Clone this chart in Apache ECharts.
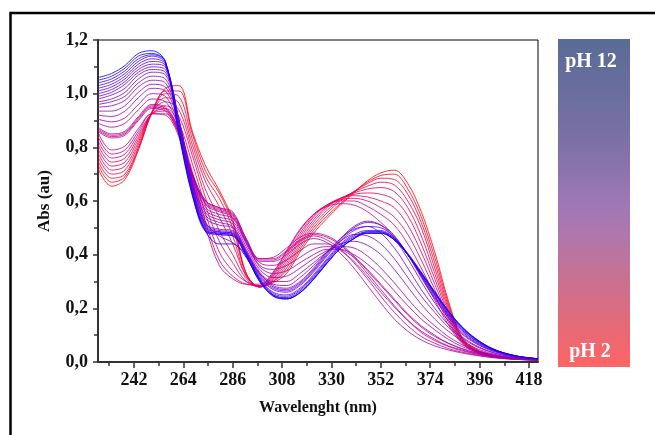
<!DOCTYPE html>
<html>
<head>
<meta charset="utf-8">
<script src="https://cdn.jsdelivr.net/npm/echarts@6/dist/echarts.min.js"></script>
<style>
  html, body { margin: 0; padding: 0; background: #fff; }
  #chart { width: 655px; height: 435px; }
</style>
</head>
<body>
<div id="chart"></div>
<script>
// wavelength grid (nm) the spectra were read at
const wavelengths = [226, 232, 238, 244, 250, 256, 262, 268, 274, 280, 286, 292, 298, 304, 310, 316, 322, 328, 334, 340, 346, 352, 358, 364, 370, 376, 382, 388, 394, 402, 412, 422];
const xLabelTicks = [242, 264, 286, 308, 330, 352, 374, 396, 418];
const xMinorTicks = [231, 253, 275, 297, 319, 341, 363, 385, 407];
const phLabels = ['pH 12', 'pH 2'];

// absorbance, from pH 2 (red) to pH 12 (blue)
const s00 = [0.72,0.655,0.68,0.79,0.93, 1.02,1.03,0.86,0.73,0.64, 0.53,0.33,0.28,0.295,0.33, 0.41,0.48,0.535,0.585,0.63, 0.675,0.705,0.715,0.665,0.56, 0.41,0.23,0.095,0.05,0.027, 0.015,0.01];
const s01 = [0.735,0.67,0.69,0.795,0.93, 1.01,1.01,0.85,0.71,0.63, 0.52,0.33,0.28,0.30,0.34, 0.42,0.49,0.545,0.59,0.635, 0.67,0.695,0.70,0.645,0.54, 0.39,0.22,0.09,0.048,0.026, 0.014,0.01];
const s02 = [0.75,0.685,0.70,0.80,0.93, 1.00,0.99,0.83,0.69,0.61, 0.50,0.33,0.28,0.30,0.35, 0.43,0.50,0.555,0.60,0.635, 0.665,0.685,0.68,0.625,0.52, 0.37,0.21,0.09,0.046,0.025, 0.014,0.01];
const s03 = [0.765,0.70,0.715,0.81,0.93, 0.985,0.965,0.81,0.67,0.58, 0.47,0.32,0.28,0.305,0.36, 0.44,0.51,0.565,0.605,0.635, 0.655,0.67,0.66,0.60,0.50, 0.35,0.20,0.085,0.045,0.024, 0.013,0.01];
const s04 = [0.78,0.715,0.73,0.82,0.93, 0.97,0.94,0.79,0.64,0.54, 0.44,0.32,0.28,0.31,0.37, 0.45,0.52,0.575,0.61,0.63, 0.645,0.65,0.635,0.575,0.47, 0.33,0.19,0.085,0.044,0.024, 0.013,0.01];
const s05 = [0.795,0.73,0.745,0.83,0.925, 0.955,0.915,0.77,0.61,0.49, 0.40,0.31,0.28,0.315,0.38, 0.46,0.53,0.58,0.61,0.625, 0.63,0.625,0.605,0.545,0.44, 0.31,0.18,0.08,0.043,0.023, 0.012,0.008];
const s06 = [0.81,0.745,0.76,0.84,0.925, 0.945,0.89,0.74,0.58,0.45, 0.37,0.30,0.28,0.32,0.39, 0.47,0.54,0.585,0.61,0.62, 0.615,0.60,0.575,0.51,0.41, 0.29,0.17,0.08,0.042,0.022, 0.012,0.008];
const s07 = [0.825,0.76,0.775,0.85,0.925, 0.935,0.87,0.71,0.55,0.41, 0.34,0.30,0.285,0.325,0.40, 0.48,0.545,0.585,0.605,0.61, 0.60,0.575,0.54,0.475,0.38, 0.27,0.16,0.075,0.04,0.021, 0.011,0.008];
const s08 = [0.84,0.775,0.79,0.86,0.925, 0.925,0.85,0.69,0.52,0.38, 0.32,0.29,0.285,0.33,0.41, 0.49,0.55,0.585,0.60,0.60, 0.58,0.55,0.51,0.44,0.35, 0.25,0.15,0.075,0.04,0.02, 0.011,0.008];
const s09 = [0.855,0.79,0.805,0.87,0.925, 0.92,0.84,0.67,0.50,0.36, 0.31,0.29,0.29,0.335,0.415, 0.495,0.55,0.58,0.59,0.585, 0.56,0.52,0.47,0.40,0.32, 0.23,0.14,0.07,0.038,0.02, 0.011,0.008];
const s10 = [0.86,0.835,0.845,0.90,0.945, 0.935,0.85,0.70,0.60,0.575, 0.56,0.46,0.385,0.39,0.425, 0.465,0.48,0.47,0.44,0.395, 0.34,0.285,0.23,0.175,0.13, 0.095,0.07,0.05,0.035,0.022, 0.012,0.008];
const s11 = [0.865,0.84,0.85,0.905,0.95, 0.94,0.855,0.70,0.60,0.575, 0.555,0.46,0.385,0.385,0.415, 0.455,0.475,0.465,0.435,0.39, 0.33,0.27,0.21,0.155,0.11, 0.08,0.058,0.042,0.03,0.018, 0.01,0.007];
const s12 = [0.87,0.845,0.855,0.91,0.955, 0.945,0.86,0.70,0.595,0.57, 0.55,0.455,0.38,0.38,0.41, 0.45,0.47,0.455,0.42,0.37, 0.31,0.245,0.185,0.135,0.095, 0.07,0.05,0.037,0.027,0.017, 0.01,0.007];
const s13 = [0.875,0.85,0.86,0.915,0.96, 0.95,0.865,0.70,0.59,0.565, 0.545,0.45,0.375,0.375,0.40, 0.44,0.46,0.445,0.405,0.35, 0.285,0.22,0.16,0.115,0.082, 0.06,0.045,0.034,0.025,0.016, 0.01,0.007];
const s14 = [0.89,0.875,0.89,0.94,0.98, 0.97,0.875,0.70,0.585,0.56, 0.54,0.45,0.37,0.36,0.38, 0.415,0.44,0.44,0.415,0.375, 0.32,0.26,0.205,0.155,0.115, 0.085,0.06,0.045,0.032,0.02, 0.011,0.007];
const s15 = [0.905,0.895,0.91,0.96,1.00, 0.99,0.88,0.695,0.575,0.55, 0.535,0.445,0.36,0.345,0.36, 0.39,0.42,0.43,0.42,0.39, 0.345,0.29,0.235,0.18,0.135, 0.10,0.07,0.05,0.035,0.021, 0.012,0.008];
const s16 = [0.92,0.915,0.935,0.985,1.02, 1.01,0.89,0.69,0.565,0.54, 0.525,0.44,0.355,0.33,0.34, 0.37,0.40,0.42,0.42,0.40, 0.365,0.32,0.265,0.21,0.16, 0.12,0.085,0.058,0.04,0.024, 0.013,0.008];
const s17 = [0.935,0.935,0.955,1.005,1.035, 1.025,0.895,0.68,0.555,0.53, 0.515,0.43,0.345,0.315,0.32, 0.35,0.385,0.415,0.43,0.425, 0.395,0.35,0.295,0.235,0.18, 0.135,0.095,0.065,0.044,0.026, 0.014,0.008];
const s18 = [0.95,0.955,0.975,1.025,1.05, 1.04,0.90,0.675,0.545,0.52, 0.505,0.42,0.335,0.30,0.30, 0.33,0.37,0.41,0.44,0.45, 0.435,0.40,0.345,0.28,0.215, 0.16,0.115,0.08,0.053,0.03, 0.015,0.009];
const s19 = [0.96,0.97,0.99,1.04,1.065, 1.055,0.905,0.67,0.535,0.51, 0.50,0.415,0.33,0.29,0.285, 0.315,0.36,0.41,0.45,0.475, 0.47,0.44,0.385,0.315,0.245, 0.185,0.13,0.09,0.06,0.034, 0.017,0.01];
const s20 = [0.97,0.98,1.005,1.055,1.08, 1.07,0.905,0.665,0.52,0.47, 0.445,0.40,0.33,0.285,0.275, 0.30,0.35,0.41,0.46,0.495, 0.505,0.48,0.425,0.35,0.27, 0.20,0.14,0.095,0.063,0.036, 0.018,0.01];
const s21 = [0.98,0.995,1.02,1.07,1.09, 1.08,0.905,0.66,0.515,0.495, 0.49,0.41,0.325,0.28,0.27, 0.295,0.345,0.405,0.46,0.505, 0.525,0.51,0.46,0.385,0.30, 0.22,0.155,0.105,0.07,0.04, 0.02,0.011];
const s22 = [0.99,1.005,1.035,1.08,1.10, 1.09,0.90,0.655,0.51,0.49, 0.485,0.41,0.32,0.275,0.265, 0.29,0.34,0.40,0.455,0.50, 0.52,0.51,0.47,0.40,0.315, 0.235,0.165,0.11,0.073,0.042, 0.021,0.011];
const s23 = [1.0,1.015,1.045,1.09,1.11, 1.10,0.89,0.65,0.505,0.485, 0.48,0.405,0.315,0.27,0.26, 0.285,0.335,0.395,0.45,0.49, 0.505,0.50,0.465,0.40,0.32, 0.24,0.17,0.115,0.076,0.043, 0.021,0.011];
const s24 = [1.01,1.025,1.055,1.10,1.12, 1.105,0.88,0.645,0.50,0.485, 0.48,0.405,0.31,0.26,0.25, 0.275,0.325,0.385,0.44,0.475, 0.49,0.49,0.46,0.40,0.325, 0.245,0.175,0.12,0.08,0.045, 0.022,0.012];
const s25 = [1.02,1.035,1.065,1.11,1.13, 1.11,0.87,0.64,0.495,0.48, 0.475,0.40,0.31,0.255,0.245, 0.27,0.32,0.38,0.435,0.47, 0.485,0.485,0.455,0.40,0.325, 0.25,0.18,0.123,0.082,0.046, 0.022,0.012];
const s26 = [1.03,1.045,1.075,1.12,1.14, 1.115,0.865,0.635,0.49,0.48, 0.475,0.40,0.305,0.25,0.24, 0.265,0.315,0.375,0.43,0.465, 0.48,0.48,0.455,0.40,0.33, 0.255,0.185,0.127,0.085,0.047, 0.023,0.012];
const s27 = [1.04,1.055,1.085,1.13,1.145, 1.12,0.86,0.63,0.49,0.475, 0.47,0.395,0.305,0.25,0.237, 0.26,0.31,0.37,0.425,0.46, 0.48,0.48,0.455,0.40,0.33, 0.258,0.188,0.13,0.087,0.048, 0.023,0.012];
const s28 = [1.05,1.065,1.095,1.14,1.15, 1.12,0.855,0.625,0.485,0.475, 0.47,0.395,0.30,0.247,0.235, 0.258,0.308,0.368,0.423,0.46, 0.48,0.48,0.455,0.40,0.332, 0.26,0.19,0.132,0.088,0.048, 0.023,0.012];
const s29 = [1.06,1.075,1.105,1.15,1.16, 1.12,0.85,0.62,0.485,0.44, 0.44,0.39,0.30,0.245,0.235, 0.258,0.308,0.368,0.423,0.46, 0.485,0.485,0.46,0.405,0.335, 0.262,0.192,0.133,0.089,0.049, 0.023,0.012];

const curves = [s00, s01, s02, s03, s04, s05, s06, s07, s08, s09,
                s10, s11, s12, s13, s14, s15, s16, s17, s18, s19,
                s20, s21, s22, s23, s24, s25, s26, s27, s28, s29];

const serif = '"Liberation Serif", "DejaVu Serif", serif';
const chart = echarts.init(document.getElementById('chart'));

// red (pH 2) -> magenta -> blue (pH 12)
const series = curves.map((vals, i) => {
    const t = i / (curves.length - 1);
    const r = Math.round(255 * Math.pow(1 - t, 0.6));
    const b = Math.round(255 * Math.pow(t, 0.6));
    return {
        type: 'line',
        data: wavelengths.map((w, k) => [w, vals[k]]),
        smooth: 0.35,
        symbol: 'none',
        silent: true,
        lineStyle: { width: 1, color: 'rgb(' + r + ',0,' + b + ')', opacity: 0.8 }
    };
});

const option = {
    backgroundColor: '#fff',
    animation: false,
    grid: { left: 98, top: 40, right: 117, bottom: 73, show: true, borderColor: '#000', borderWidth: 1 },
    xAxis: [
        {
            type: 'value', min: 226, max: 422, position: 'bottom',
            axisLine: { show: true, onZero: false, lineStyle: { color: '#333', width: 2 } },
            axisTick: { show: true, length: 6, customValues: xLabelTicks, lineStyle: { color: '#333', width: 1.5 } },
            axisLabel: { customValues: xLabelTicks, margin: 9, fontFamily: serif, fontWeight: 'bold', fontSize: 18, color: '#111' },
            splitLine: { show: false },
            name: 'Wavelenght (nm)', nameLocation: 'middle', nameGap: 38,
            nameTextStyle: { fontFamily: serif, fontWeight: 'bold', fontSize: 16, color: '#111' }
        },
        {
            // short ticks between the labelled ones
            type: 'value', min: 226, max: 422, position: 'bottom',
            axisLine: { show: false },
            axisTick: { show: true, length: 4, customValues: xMinorTicks, lineStyle: { color: '#333', width: 1.5 } },
            axisLabel: { show: false },
            splitLine: { show: false }
        }
    ],
    yAxis: {
        type: 'value', min: 0, max: 1.2, interval: 0.2,
        axisLine: { show: true, lineStyle: { color: '#333', width: 2 } },
        axisTick: { show: true, length: 5, lineStyle: { color: '#333', width: 1.5 } },
        minorTick: { show: true, splitNumber: 2, length: 4, lineStyle: { color: '#333', width: 1.5 } },
        axisLabel: {
            margin: 10, fontFamily: serif, fontWeight: 'bold', fontSize: 18, color: '#111',
            formatter: v => v.toFixed(1).replace('.', ',')
        },
        splitLine: { show: false },
        name: 'Abs (au)', nameLocation: 'middle', nameGap: 45,
        nameTextStyle: { fontFamily: serif, fontWeight: 'bold', fontSize: 17, color: '#111' }
    },
    series: series,
    graphic: [
        {
            type: 'rect', silent: true, z: 100,
            shape: { x: 10.5, y: 13, width: 700, height: 500 },
            style: { fill: 'none', stroke: '#000', lineWidth: 2.5 }
        },
        {
            type: 'rect', silent: true,
            shape: { x: 558, y: 39, width: 72, height: 328 },
            style: {
                fill: new echarts.graphic.LinearGradient(0, 0, 0, 1, [
                    { offset: 0, color: '#596b97' },
                    { offset: 0.3, color: '#7a70a6' },
                    { offset: 0.5, color: '#9f77b7' },
                    { offset: 0.62, color: '#b476a8' },
                    { offset: 0.8, color: '#d56e84' },
                    { offset: 1, color: '#ff6464' }
                ])
            }
        },
        {
            type: 'text', silent: true, x: 591, y: 62,
            style: { text: phLabels[0], fill: '#fff', font: 'bold 20px ' + serif, align: 'center', verticalAlign: 'middle' }
        },
        {
            type: 'text', silent: true, x: 590, y: 352,
            style: { text: phLabels[1], fill: '#fff', font: 'bold 20px ' + serif, align: 'center', verticalAlign: 'middle' }
        }
    ]
};

chart.setOption(option);
</script>
</body>
</html>
